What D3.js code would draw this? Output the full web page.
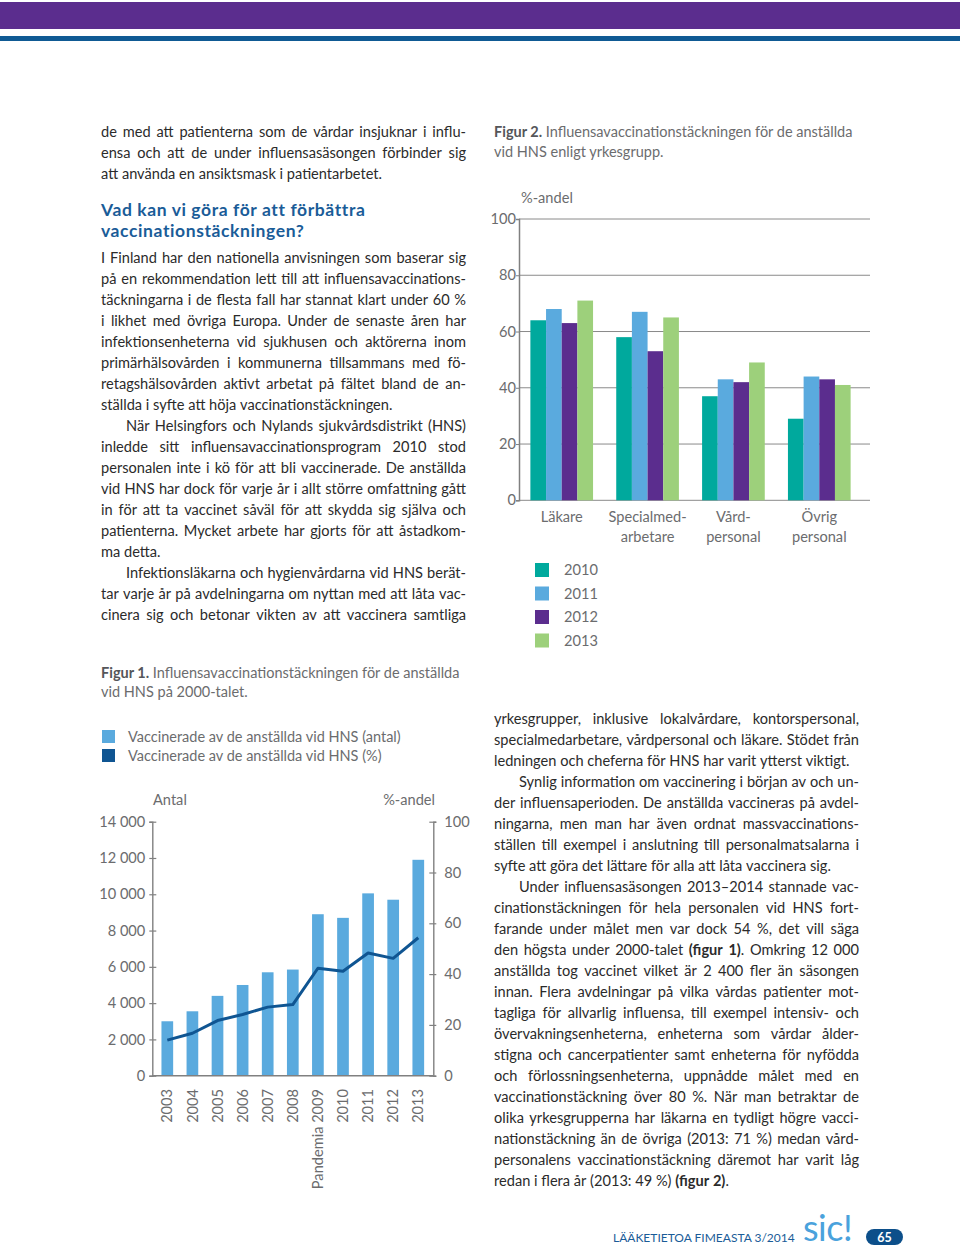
<!DOCTYPE html>
<html><head><meta charset="utf-8">
<script src="https://cdn.jsdelivr.net/npm/d3@7"></script>
<style>
html,body{margin:0;padding:0;background:#fff;}
svg{display:block;}
text{font-family:Lato,"Open Sans","Noto Sans",sans-serif;}
</style></head><body>
<svg id="page" width="960" height="1252"></svg>
<script>
// ---------- DATA ----------
const years = ["2003","2004","2005","2006","2007","2008","Pandemia 2009","2010","2011","2012","2013"];
const vaccinatedCount = [3000,3550,4400,5000,5700,5850,8900,8700,10050,9700,11900];
const vaccinatedPct = [14.0,16.7,21.7,24.1,27.0,28.0,42.3,41.1,48.3,46.2,54.3];
const countTicks = [0,2000,4000,6000,8000,10000,12000,14000];
const pctTicksFig1 = [0,20,40,60,80,100];
const fig1Legend = ["Vaccinerade av de anställda vid HNS (antal)","Vaccinerade av de anställda vid HNS (%)"];

const groups = ["Läkare","Specialmedarbetare","Vårdpersonal","Övrig personal"];
const groupLabels = [["Läkare"],["Specialmed-","arbetare"],["Vård-","personal"],["Övrig","personal"]];
const seriesYears = ["2010","2011","2012","2013"];
const pct2010 = [64,58,37,29];
const pct2011 = [68,67,43,44];
const pct2012 = [63,53,42,43];
const pct2013 = [71,65,49,41];
const pctTicksFig2 = [0,20,40,60,80,100];

// body text (* toggles bold); flags: j = justified, i = indented first line
const leftLines = [
 ["de med att patienterna som de vårdar insjuknar i influ-","j"],
 ["ensa och att de under influensasäsongen förbinder sig","j"],
 ["att använda en ansiktsmask i patientarbetet.",""],
 ["I Finland har den nationella anvisningen som baserar sig","j"],
 ["på en rekommendation lett till att influensavaccinations-","j"],
 ["täckningarna i de flesta fall har stannat klart under 60 %","j"],
 ["i likhet med övriga Europa. Under de senaste åren har","j"],
 ["infektionsenheterna vid sjukhusen och aktörerna inom","j"],
 ["primärhälsovården i kommunerna tillsammans med fö-","j"],
 ["retagshälsovården aktivt arbetat på fältet bland de an-","j"],
 ["ställda i syfte att höja vaccinationstäckningen.",""],
 ["När Helsingfors och Nylands sjukvårdsdistrikt (HNS)","ji"],
 ["inledde sitt influensavaccinationsprogram 2010 stod","j"],
 ["personalen inte i kö för att bli vaccinerade. De anställda","j"],
 ["vid HNS har dock för varje år i allt större omfattning gått","j"],
 ["in för att ta vaccinet såväl för att skydda sig själva och","j"],
 ["patienterna. Mycket arbete har gjorts för att åstadkom-","j"],
 ["ma detta.",""],
 ["Infektionsläkarna och hygienvårdarna vid HNS berät-","ji"],
 ["tar varje år på avdelningarna om nyttan med att låta vac-","j"],
 ["cinera sig och betonar vikten av att vaccinera samtliga","j"]
];
const leftLineY = [137,158,179, 263,284,305,326,347,368,389,410,431,452,473,494,515,536,557,578,599,620];
const headingLines = ["Vad kan vi göra för att förbättra","vaccinationstäckningen?"];

const rightLines = [
 ["yrkesgrupper, inklusive lokalvårdare, kontorspersonal,","j"],
 ["specialmedarbetare, vårdpersonal och läkare. Stödet från","j"],
 ["ledningen och cheferna för HNS har varit ytterst viktigt.",""],
 ["Synlig information om vaccinering i början av och un-","ji"],
 ["der influensaperioden. De anställda vaccineras på avdel-","j"],
 ["ningarna, men man har även ordnat massvaccinations-","j"],
 ["ställen till exempel i anslutning till personalmatsalarna i","j"],
 ["syfte att göra det lättare för alla att låta vaccinera sig.",""],
 ["Under influensasäsongen 2013–2014 stannade vac-","ji"],
 ["cinationstäckningen för hela personalen vid HNS fort-","j"],
 ["farande under målet men var dock 54 %, det vill säga","j"],
 ["den högsta under 2000-talet *(figur 1)*. Omkring 12 000","j"],
 ["anställda tog vaccinet vilket är 2 400 fler än säsongen","j"],
 ["innan. Flera avdelningar på vilka vårdas patienter mot-","j"],
 ["tagliga för allvarlig influensa, till exempel intensiv- och","j"],
 ["övervakningsenheterna, enheterna som vårdar ålder-","j"],
 ["stigna och cancerpatienter samt enheterna för nyfödda","j"],
 ["och förlossningsenheterna, uppnådde målet med en","j"],
 ["vaccinationstäckning över 80 %. När man betraktar de","j"],
 ["olika yrkesgrupperna har läkarna en tydligt högre vacci-","j"],
 ["nationstäckning än de övriga (2013: 71 %) medan vård-","j"],
 ["personalens vaccinationstäckning däremot har varit låg","j"],
 ["redan i flera år (2013: 49 %) *(figur 2)*.",""]
];

// ---------- STYLE ----------
const bodyColor = "#2b2b2b", blue = "#1a5c98", grey = "#6b6c6e", axisGrey = "#808080";
const barLight = "#5aaade", lineDark = "#0f5592";
const seriesColors = ["#00a99d","#5aaade","#5b2d8e","#9dd07b"];
const chartFont = 14.6;

const svg = d3.select("#page");

// header bars
svg.append("rect").attr("x",0).attr("y",2).attr("width",960).attr("height",27).attr("fill","#5b2d8e");
svg.append("rect").attr("x",0).attr("y",36).attr("width",960).attr("height",5).attr("fill","#0f5a94");

// ---------- text helpers ----------
const meas = svg.append("text").attr("x",20).attr("y",20).attr("fill","none");
function measure(t,size,weight){ meas.attr("font-size",size).attr("font-weight",weight).text(t); return meas.node().getComputedTextLength(); }
function parseWords(str){
  let bold=false;
  return str.split(" ").map(w=>{
    const pieces=[]; let cur="";
    for(const ch of w){ if(ch==="*"){ if(cur) pieces.push({t:cur,b:bold}); cur=""; bold=!bold; } else cur+=ch; }
    if(cur) pieces.push({t:cur,b:bold});
    return pieces;
  });
}
function drawLine(x,y,width,str,o){
  let size=o.size;
  const words=parseWords(str);
  const calc=(s)=>{
    const wW=words.map(p=>p.reduce((a,q)=>a+measure(q.t,s,q.b?o.boldW:o.weight),0));
    const sp=measure("a a",s,o.weight)-measure("aa",s,o.weight);
    return {wW,sp};
  };
  let {wW,sp}=calc(size);
  let total=d3.sum(wW);
  if(o.justify && words.length>1 && (width-total)/(words.length-1) < sp*0.7){
    size = size*(width-(words.length-1)*sp*0.75)/total;
    ({wW,sp}=calc(size)); total=d3.sum(wW);
  }
  let gap=sp;
  if(o.justify && words.length>1) gap=(width-total)/(words.length-1);
  const t=svg.append("text").attr("y",y).attr("font-size",size).attr("fill",o.fill).attr("font-weight",o.weight);
  let cx=x;
  words.forEach((p,i)=>{
    p.forEach((q,k)=>{
      const ts=t.append("tspan").attr("font-weight",q.b?o.boldW:o.weight)
        .text(q.t + (k===p.length-1 && i<words.length-1 ? " " : ""));
      if(k===0) ts.attr("x",cx);
    });
    cx+=wW[i]+gap;
  });
}
const bodyOpt = {size:14.6, weight:400, boldW:700, fill:bodyColor};
function drawColumn(lines,x,ys){
  lines.forEach((l,i)=>{
    const ind = l[1].includes("i") ? 25 : 0;
    drawLine(x+ind, ys[i], 365-ind, l[0], Object.assign({justify:l[1].includes("j")}, bodyOpt));
  });
}
drawColumn(leftLines,101,leftLineY);
drawColumn(rightLines,494,d3.range(rightLines.length).map(i=>724+i*21));
meas.remove();
headingLines.forEach((h,i)=>{
  svg.append("text").attr("x",101).attr("y",216+i*21).attr("font-size",17.5).attr("letter-spacing",0.6)
    .attr("font-weight",700).attr("fill",blue).text(h);
});

// captions
function caption(x,y,bold,rest){
  const t=svg.append("text").attr("x",x).attr("y",y).attr("font-size",14.5).attr("fill",grey);
  if(bold) t.append("tspan").attr("font-weight",700).attr("fill","#55565a").text(bold+" ");
  t.append("tspan").text(rest);
}
caption(494,137,"Figur 2.","Influensavaccinationstäckningen för de anställda");
caption(494,157,null,"vid HNS enligt yrkesgrupp.");
caption(101,678,"Figur 1.","Influensavaccinationstäckningen för de anställda");
caption(101,697,null,"vid HNS på 2000-talet.");

// ---------- FIGURE 1 ----------
const f1 = svg.append("g");
const x1 = d3.scaleBand().domain(years).range([152.3,433.3]).paddingInner(0.534).paddingOuter(0.365);
const yL = d3.scaleLinear().domain([0,14000]).range([1075.7,821.7]);
const yR = d3.scaleLinear().domain([0,100]).range([1075.7,821.7]);
const fmt = d3.formatLocale({thousands:" ",grouping:[3],decimal:",",currency:["",""]}).format(",");

// legend
fig1Legend.forEach((t,i)=>{
  f1.append("rect").attr("x",102).attr("y",730+i*19).attr("width",13).attr("height",13).attr("fill",i?lineDark:barLight);
  f1.append("text").attr("x",128).attr("y",742+i*19).attr("font-size",14.5).attr("fill",grey).text(t);
});
f1.append("text").attr("x",153).attr("y",805).attr("font-size",chartFont).attr("fill",grey).text("Antal");
f1.append("text").attr("x",435).attr("y",805).attr("text-anchor","end").attr("font-size",chartFont).attr("fill",grey).text("%-andel");

f1.selectAll("rect.bar").data(vaccinatedCount).join("rect").attr("class","bar")
  .attr("x",(d,i)=>x1(years[i])).attr("width",x1.bandwidth())
  .attr("y",d=>yL(d)).attr("height",d=>yL(0)-yL(d)).attr("fill",barLight);

const axL = f1.append("g").attr("transform","translate(152.3,0)")
  .call(d3.axisLeft(yL).tickValues(countTicks).tickFormat(fmt).tickSizeOuter(0).tickSize(3).tickPadding(4));
axL.selectAll(".tick line").attr("x1",-3).attr("x2",4);
const axR = f1.append("g").attr("transform","translate(433.3,0)")
  .call(d3.axisRight(yR).tickValues(pctTicksFig1).tickSizeOuter(0).tickSize(3).tickPadding(8));
axR.selectAll(".tick line").attr("x1",-4).attr("x2",3);
[axL,axR].forEach(a=>{
  a.select(".domain").attr("stroke",axisGrey).attr("stroke-width",1.4);
  a.selectAll(".tick line").attr("stroke",axisGrey).attr("stroke-width",1.2);
  a.selectAll(".tick text").attr("font-size",chartFont).attr("fill",grey).attr("font-family","Lato,'Open Sans',sans-serif");
});
f1.append("line").attr("x1",152.3).attr("x2",433.3).attr("y1",yL(0)).attr("y2",yL(0)).attr("stroke",axisGrey).attr("stroke-width",1.4);

f1.append("path").datum(vaccinatedPct)
  .attr("d",d3.line().x((d,i)=>x1(years[i])+x1.bandwidth()/2).y(d=>yR(d)))
  .attr("fill","none").attr("stroke",lineDark).attr("stroke-width",3).attr("stroke-linejoin","round");

f1.selectAll("text.xl").data(years).join("text").attr("class","xl")
  .attr("transform",d=>`translate(${x1(d)+x1.bandwidth()/2},1089) rotate(-90)`)
  .attr("text-anchor","end").attr("dy","0.35em").attr("font-size",chartFont).attr("fill",grey).text(d=>d);

// ---------- FIGURE 2 ----------
const f2 = svg.append("g");
const y2 = d3.scaleLinear().domain([0,100]).range([500.3,219]);
const x0 = d3.scaleBand().domain(groups).range([517.5,863.5]).paddingInner(0.27).paddingOuter(0.15);
const xs = d3.scaleBand().domain(seriesYears).range([0,x0.bandwidth()]);
const seriesVals = [pct2010,pct2011,pct2012,pct2013];

f2.append("text").attr("x",521).attr("y",203).attr("font-size",chartFont).attr("fill",grey).text("%-andel");
f2.selectAll("line.grid").data(pctTicksFig2).join("line").attr("class","grid")
  .attr("x1",519).attr("x2",870).attr("y1",d=>y2(d)).attr("y2",d=>y2(d))
  .attr("stroke","#8a8a8a").attr("stroke-width",1);

groups.forEach((g,gi)=>{
  seriesYears.forEach((s,si)=>{
    const v=seriesVals[si][gi];
    f2.append("rect").attr("x",x0(g)+xs(s)).attr("width",xs.bandwidth())
      .attr("y",y2(v)).attr("height",y2(0)-y2(v)).attr("fill",seriesColors[si]);
  });
});
const ax2 = f2.append("g").attr("transform","translate(519,0)")
  .call(d3.axisLeft(y2).tickValues(pctTicksFig2).tickSizeOuter(0).tickSize(3).tickPadding(0));
ax2.select(".domain").attr("stroke",axisGrey).attr("stroke-width",1.5);
ax2.selectAll(".tick line").attr("stroke",axisGrey);
ax2.selectAll(".tick text").attr("font-size",chartFont).attr("fill",grey).attr("font-family","Lato,'Open Sans',sans-serif");

groupLabels.forEach((ls,gi)=>{
  ls.forEach((l,li)=>{
    f2.append("text").attr("x",x0(groups[gi])+x0.bandwidth()/2).attr("y",522+li*19.5)
      .attr("text-anchor","middle").attr("font-size",chartFont).attr("fill",grey).text(l);
  });
});
seriesYears.forEach((s,i)=>{
  f2.append("rect").attr("x",535).attr("y",563+i*23.5).attr("width",14).attr("height",14).attr("fill",seriesColors[i]);
  f2.append("text").attr("x",564).attr("y",575+i*23.5).attr("font-size",chartFont).attr("fill",grey).text(s);
});

// ---------- FOOTER ----------
svg.append("text").attr("x",613).attr("y",1242).attr("font-size",12).attr("fill",blue).text("LÄÄKETIETOA FIMEASTA 3/2014");
svg.append("text").attr("x",803).attr("y",1241).attr("font-size",36).attr("fill","#4aa2dc").attr("letter-spacing",-0.5).text("sic!");
svg.append("rect").attr("x",866).attr("y",1229).attr("width",37).attr("height",16).attr("rx",8).attr("fill","#0c4f8a");
svg.append("text").attr("x",884.5).attr("y",1241.5).attr("text-anchor","middle").attr("font-size",12.5).attr("font-weight",700).attr("fill","#fff").text("65");
</script>
</body></html>
